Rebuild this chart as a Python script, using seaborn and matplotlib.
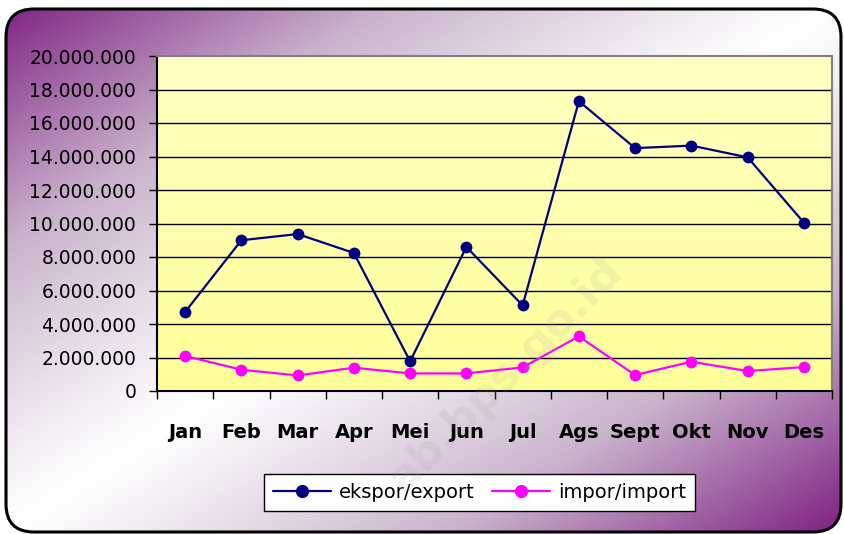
import numpy as np
import pandas as pd
import matplotlib
matplotlib.use("Agg")
import matplotlib.pyplot as plt
from matplotlib.patches import FancyBboxPatch
from matplotlib.colors import LinearSegmentedColormap
import seaborn as sns

# data
months = ['Jan', 'Feb', 'Mar', 'Apr', 'Mei', 'Jun', 'Jul', 'Ags', 'Sept', 'Okt', 'Nov', 'Des']
ekspor = [4720000, 9000000, 9370000, 8240000, 1770000, 8600000, 5110000,
          17300000, 14500000, 14650000, 13950000, 10050000]
impor = [2090000, 1270000, 930000, 1390000, 1050000, 1050000, 1410000,
         3260000, 950000, 1750000, 1190000, 1430000]
yticks = list(range(0, 20000001, 2000000))

df = pd.DataFrame({
    'bulan': months * 2,
    'nilai': ekspor + impor,
    'seri': ['ekspor/export'] * 12 + ['impor/import'] * 12,
})
df['pos'] = list(range(12)) * 2

sns.set_style("white")
plt.rcParams['font.family'] = ['DejaVu Sans']
plt.rcParams['text.color'] = 'black'
plt.rcParams['xtick.color'] = 'black'
plt.rcParams['ytick.color'] = 'black'

fig = plt.figure(figsize=(8.44, 5.34), dpi=100)
fig.patch.set_facecolor('white')

# gradient background inside a rounded frame
bg = fig.add_axes([0, 0, 1, 1], zorder=-10)
bg.set_xlim(0, 844)
bg.set_ylim(534, 0)
bg.axis('off')
xx, yy = np.meshgrid(np.linspace(0, 1, 300), np.linspace(0, 1, 200))
d = np.clip(np.abs(xx + yy - 1.0), 0, 1) ** 1.1
cmap = LinearSegmentedColormap.from_list('bg', ['#ffffff', '#c9b3cc', '#7e1f82'])
img = bg.imshow(d, cmap=cmap, extent=[0, 844, 534, 0], aspect='auto', vmin=0, vmax=1)
frame = FancyBboxPatch((6, 9), 835, 523, boxstyle="round,pad=0,rounding_size=28",
                       facecolor='none', edgecolor='black', linewidth=2.2,
                       transform=bg.transData)
bg.add_patch(frame)
img.set_clip_path(frame)

ax = fig.add_axes([157 / 844, 1 - 391 / 534, 675 / 844, 335 / 534])
# pale yellow plot area, a bit lighter towards the bottom
ycmap = LinearSegmentedColormap.from_list('yl', ['#ffff99', '#ffffc2'])
ax.imshow(np.linspace(0, 1, 100).reshape(-1, 1), cmap=ycmap, aspect='auto',
          extent=[-0.5, 11.5, 20000000, 0], zorder=0)

sns.lineplot(data=df, x='pos', y='nilai', hue='seri',
             palette={'ekspor/export': '#000080', 'impor/import': '#ff00ff'},
             marker='o', markersize=8.5, markeredgewidth=0, linewidth=1.6,
             ax=ax, legend=False, zorder=3)

ax.set_xlim(-0.5, 11.5)
ax.set_ylim(0, 20000000)
ax.set_yticks(yticks)
ax.set_yticklabels([f"{v:,.0f}".replace(",", ".") for v in yticks])
for v in yticks[1:-1]:
    ax.axhline(v, color='black', linewidth=1, zorder=1)

ax.set_xticks(range(12))
ax.set_xticklabels(months, fontweight='bold')
ax.set_xticks(np.arange(-0.5, 12, 1), minor=True)
ax.tick_params(axis='x', which='major', length=0, pad=23, labelsize=14)
ax.tick_params(axis='x', which='minor', length=6, width=1, color='black',
               direction='out', bottom=True)
ax.tick_params(axis='y', length=6, width=1, color='black', direction='out',
               left=True, pad=9, labelsize=13.5)
ax.set_xlabel('')
ax.set_ylabel('')
for s in ax.spines.values():
    s.set_color('#808080')
    s.set_linewidth(1.5)
ax.spines['bottom'].set_color('black')
ax.spines['left'].set_color('black')

handles = [plt.Line2D([], [], color='#000080', marker='o', markersize=8.5, linewidth=1.6),
           plt.Line2D([], [], color='#ff00ff', marker='o', markersize=8.5, linewidth=1.6)]
leg = fig.legend(handles, ['ekspor/export', 'impor/import'], ncol=2,
                 loc='center', bbox_to_anchor=(479.5 / 844, 1 - 492.5 / 534),
                 fontsize=14, frameon=True, fancybox=False, framealpha=1,
                 edgecolor='black', handlelength=3.0, columnspacing=0.9,
                 handletextpad=0.4, borderpad=0.45)
leg.get_frame().set_linewidth(1)

# faint watermark drawn over everything
fig.text(505 / 844, 1 - 375 / 534, 'ab.bps.go.id', rotation=45, fontsize=32,
         fontweight='bold', color='#a0a0a0', alpha=0.15, ha='center', va='center',
         zorder=10)

fig.savefig('out.png', dpi=100)
